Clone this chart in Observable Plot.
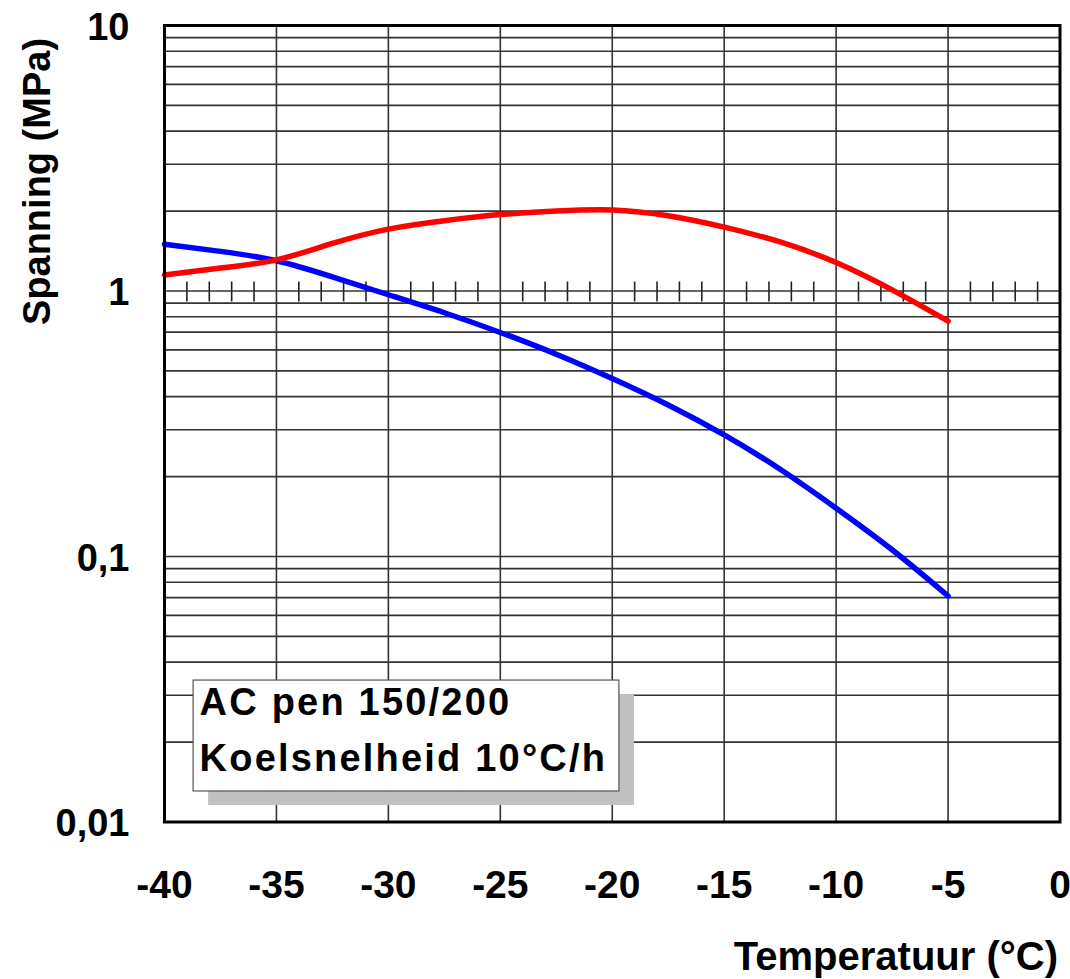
<!DOCTYPE html>
<html>
<head>
<meta charset="utf-8">
<script src="https://cdn.jsdelivr.net/npm/d3@7"></script>
<script src="https://cdn.jsdelivr.net/npm/@observablehq/plot@0.6"></script>
<style>
  html, body { margin: 0; padding: 0; background: white; }
  #chart { width: 1070px; height: 979px; }
</style>
</head>
<body>
<div id="chart"></div>
<script>
// ---- data ----
const temperatures = [-40, -37.5, -35, -32.5, -30, -27.5, -25, -22.5, -20, -17.5, -15, -12.5, -10, -7.5, -5];
const blueStress   = [1.50, 1.41, 1.30, 1.13, 0.968, 0.828, 0.698, 0.578, 0.468, 0.372, 0.287, 0.213, 0.152, 0.106, 0.071];
const redStress    = [1.15, 1.22, 1.31, 1.51, 1.71, 1.84, 1.94, 2.00, 2.02, 1.92, 1.74, 1.53, 1.28, 1.01, 0.77];
const seriesNames  = ["blauw", "rood"];
const seriesColors = ["#0000ff", "#ff0000"];

const xTicks = [-40, -35, -30, -25, -20, -15, -10, -5, 0];
const xTickLabels = ["-40", "-35", "-30", "-25", "-20", "-15", "-10", "-5", "0"];
const yTicks = [0.01, 0.1, 1, 10];
const yTickLabels = ["0,01", "0,1", "1", "10"];
const xLabel = "Temperatuur (°C)";
const yLabel = "Spanning (MPa)";
const noteLines = ["AC pen 150/200", "Koelsnelheid 10°C/h"];

// gridlines: 1..9 per decade
const decades = [0.01, 0.1, 1];
const multipliers = [1, 2, 3, 4, 5, 6, 7, 8, 9];
const yGrid = decades.flatMap(d => multipliers.map(m => +(d * m).toPrecision(3))).filter(v => v > 0.01);
const minorX = d3.range(-39, 0).filter(t => t % 5 !== 0);

// table
const rows = [];
temperatures.forEach((t, i) => {
  rows.push({T: t, S: blueStress[i], serie: seriesNames[0]});
  rows.push({T: t, S: redStress[i], serie: seriesNames[1]});
});

// annotation box placement (data space)
const note = {x1: -38.7, x2: -19.68, y1: 0.01303, y2: 0.0341};

const gridColor = "#333";
const font = "'Liberation Sans', Arial, Helvetica, sans-serif";

const chart = Plot.plot({
  width: 1070,
  height: 979,
  marginLeft: 164,
  marginRight: 10.5,
  marginTop: 25,
  marginBottom: 157.5,
  x: {domain: [-40, 0]},
  y: {type: "log", domain: [0.01, 10]},
  color: {domain: seriesNames, range: seriesColors},
  style: {fontFamily: font, fontWeight: "bold", fontSize: "39px", color: "black", background: "white"},
  marks: [
    Plot.ruleY(yGrid, {stroke: gridColor, strokeWidth: 1.6}),
    Plot.ruleX(xTicks, {stroke: gridColor, strokeWidth: 1.6}),
    Plot.ruleX(minorX, {x: d => d, y1: 1, y2: 1, insetTop: -9, insetBottom: -11, stroke: "#222", strokeWidth: 1.6}),
    Plot.line(rows, {x: "T", y: "S", z: "serie", stroke: "serie", strokeWidth: 5.5, curve: "natural", strokeLinecap: "round"}),
    // annotation
    Plot.rect([note], {x1: "x1", x2: "x2", y1: "y1", y2: "y2", fill: "#c0c0c0", dx: 15, dy: 14}),
    Plot.rect([note], {x1: "x1", x2: "x2", y1: "y1", y2: "y2", fill: "white", stroke: "#555", strokeWidth: 1.2}),
    Plot.text([noteLines.join("\n")], {x: () => note.x1, y: () => note.y2, text: d => d, textAnchor: "start", lineAnchor: "top",
      dx: 6, dy: -5, fontSize: 38, lineHeight: 1.47, fill: "black"}),
    // axes
    Plot.axisX({ticks: xTicks, tickFormat: d => xTickLabels[xTicks.indexOf(d)], tickSize: 0, tickPadding: 48, label: null, fontSize: 39}),
    Plot.axisY({ticks: yTicks, tickFormat: d => yTickLabels[yTicks.indexOf(d)], tickSize: 0, tickPadding: 35, label: null, fontSize: 38, dy: 2}),
    Plot.text([xLabel], {frameAnchor: "bottom-right", textAnchor: "end", lineAnchor: "bottom", dx: -2, dy: 148, fontSize: 40, fill: "black"}),
    Plot.text([yLabel], {frameAnchor: "top-left", rotate: -90, textAnchor: "middle", lineAnchor: "middle", dx: -127, dy: 156, fontSize: 38, fill: "black"}),
    Plot.frame({stroke: "black", strokeWidth: 3})
  ]
});

chart.querySelectorAll("text").forEach(t => {
  if (t.textContent.includes(noteLines[0])) t.setAttribute("letter-spacing", "2.2");
});
document.getElementById("chart").appendChild(chart);
</script>
</body>
</html>
